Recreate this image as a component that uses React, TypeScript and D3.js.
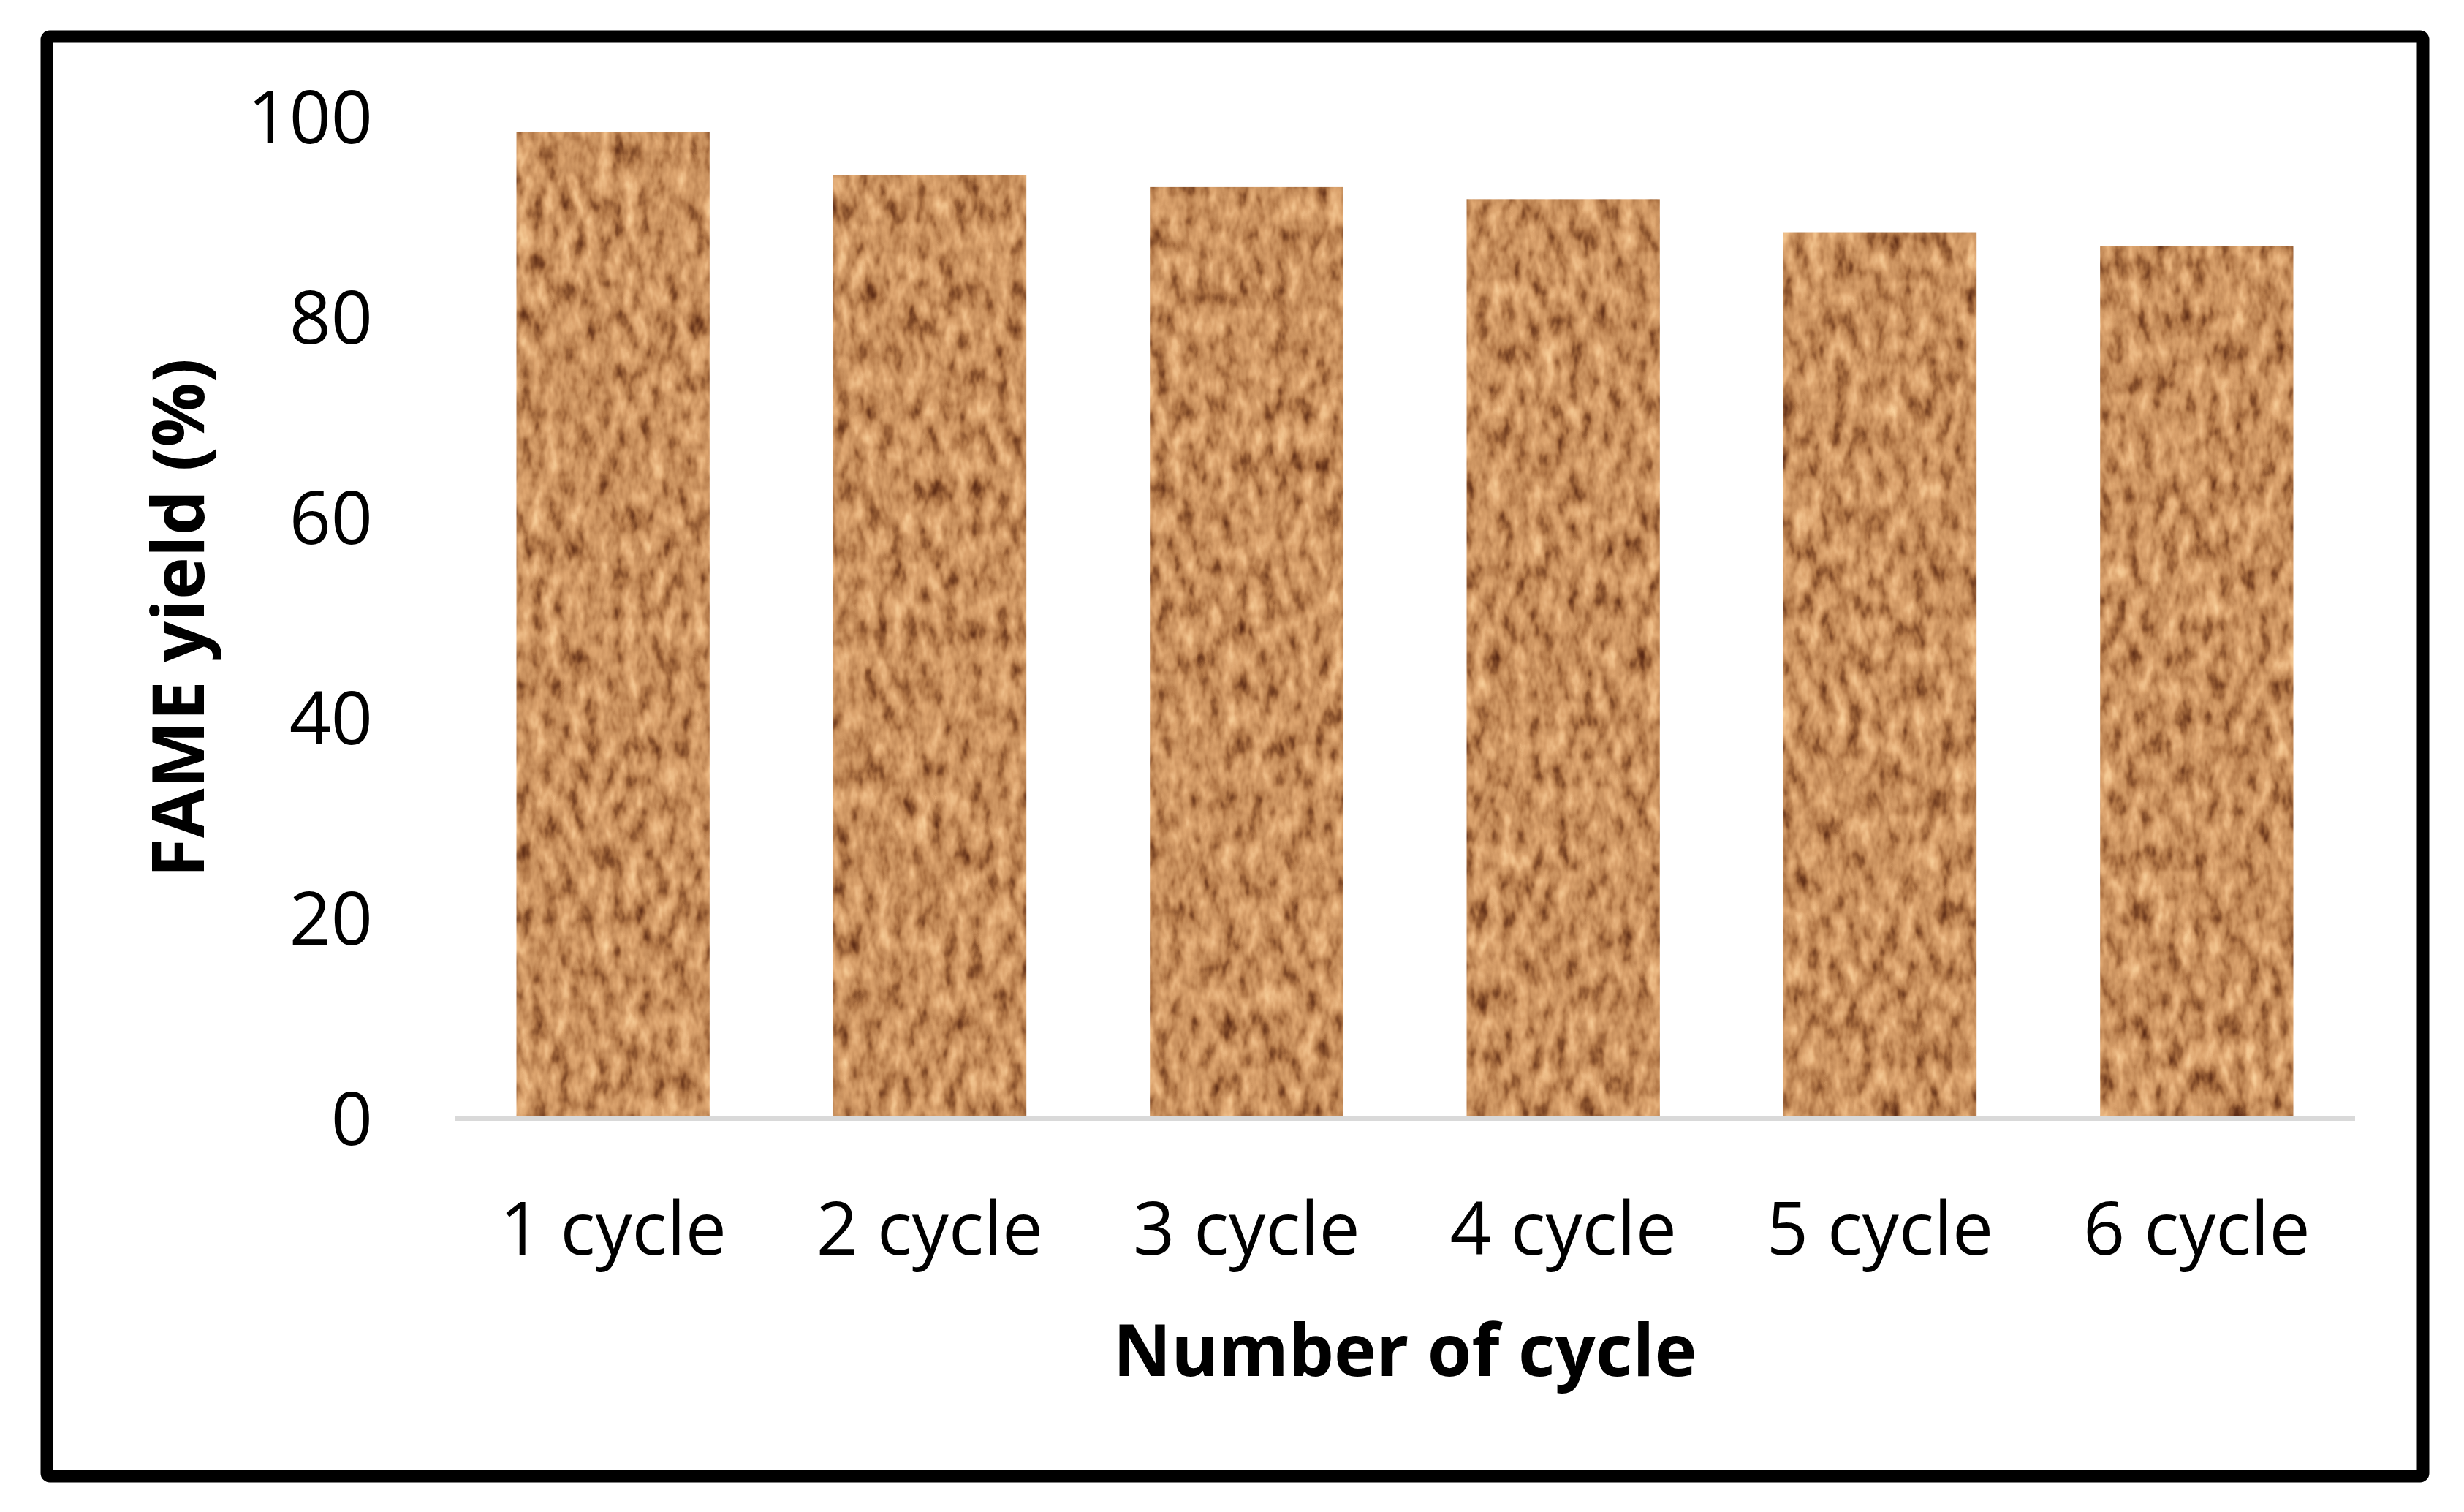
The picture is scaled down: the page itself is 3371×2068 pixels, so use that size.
import React from "react";
import * as d3 from "d3";

const categories = ["1 cycle", "2 cycle", "3 cycle", "4 cycle", "5 cycle", "6 cycle"];
const yieldValues = [98.5, 94.2, 93.0, 91.8, 88.5, 87.1];
const yTicks = [0, 20, 40, 60, 80, 100];
const xTitle = "Number of cycle";
const yTitle = "FAME yield (%)";

const W = 3371;
const H = 2068;
const plot = { left: 622, right: 3222, top: 160, bottom: 1530 };
const FONT = "'Open Sans', 'Noto Sans', sans-serif";

export default function App() {
  const x = d3.scaleBand<string>().domain(categories).range([plot.left, plot.right]).paddingInner(0.39).paddingOuter(0.195);
  const y = d3.scaleLinear().domain([0, 100]).range([plot.bottom, plot.top]);

  return (
    <svg width={W} height={H} style={{ position: "absolute", left: 0, top: 0, background: "#fff" }}>
      <defs>
        <filter id="cork" x="0" y="0" width="100%" height="100%" filterUnits="objectBoundingBox" colorInterpolationFilters="sRGB">
          <feTurbulence type="fractalNoise" baseFrequency="0.055 0.026" numOctaves="3" seed="7" result="noise" />
          <feColorMatrix in="noise" type="matrix"
            values="1 0 0 0 0  1 0 0 0 0  1 0 0 0 0  0 0 0 0 1" result="gray" />
          <feComponentTransfer in="gray" result="col">
            <feFuncR type="table" tableValues="0.3 0.4 0.55 0.7 0.79 0.86 0.92 0.96 1" />
            <feFuncG type="table" tableValues="0.12 0.2 0.33 0.47 0.57 0.64 0.72 0.79 0.85" />
            <feFuncB type="table" tableValues="0.06 0.1 0.18 0.28 0.37 0.43 0.51 0.58 0.65" />
          </feComponentTransfer>
          <feComposite in="col" in2="SourceGraphic" operator="in" />
        </filter>
      </defs>
      <rect width={W} height={H} fill="#fff" />
      {/* outer frame */}
      <rect x={64} y={50} width={3251} height={1969} fill="none" stroke="#000" strokeWidth={17} rx={4} />

      {/* bars */}
      {categories.map((c, i) => (
        <rect key={c} x={x(c)} y={y(yieldValues[i])} width={x.bandwidth()} height={y(0) - y(yieldValues[i])}
          fill="#c68c5a" filter="url(#cork)" />
      ))}

      {/* x axis line */}
      <line x1={plot.left} x2={plot.right} y1={y(0)} y2={y(0)} stroke="#d9d9d9" strokeWidth={6} />

      {/* y tick labels */}
      {yTicks.map((t) => (
        <text key={t} x={510} y={y(t)} dy="0.36em" textAnchor="end" fontFamily={FONT} fontSize={100} fill="#000">
          {t}
        </text>
      ))}

      {/* x tick labels */}
      {categories.map((c) => (
        <text key={c} x={(x(c) as number) + x.bandwidth() / 2} y={1716} textAnchor="middle" fontFamily={FONT} fontSize={100} fill="#000">
          {c}
        </text>
      ))}

      {/* axis titles */}
      <text x={(plot.left + plot.right) / 2} y={1882} textAnchor="middle" fontFamily={FONT} fontWeight={700} fontSize={98} fill="#000">
        {xTitle}
      </text>
      <text transform={`translate(279, ${(plot.top + plot.bottom) / 2}) rotate(-90)`} textAnchor="middle" fontFamily={FONT} fontWeight={700} fontSize={98} fill="#000">
        {yTitle}
      </text>
    </svg>
  );
}
